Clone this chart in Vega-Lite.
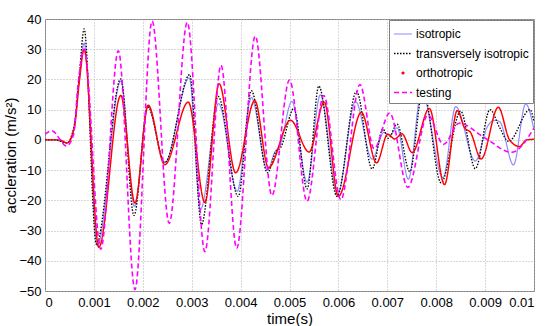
{
  "$schema": "https://vega.github.io/schema/vega-lite/v6.json",
  "autosize": "none",
  "width": 489,
  "height": 272,
  "padding": {"left": 45, "top": 19, "right": 16, "bottom": 35},
  "background": "white",
  "config": {
    "view": {"stroke": "#808080", "strokeWidth": 1},
    "font": "Liberation Sans",
    "axis": {
      "labelFont": "Liberation Sans", "labelFontSize": 13, "labelColor": "black",
      "titleFont": "Liberation Sans", "titleFontSize": 15, "titleFontWeight": "normal", "titleColor": "black",
      "domain": false, "ticks": false,
      "gridColor": "#b0b0b0", "gridDash": [1, 2], "gridWidth": 1
    },
    "legend": {
      "labelFont": "Liberation Sans", "labelFontSize": 12, "labelColor": "black"
    }
  },
  "datasets": {
    "d": [
      {"s":"isotropic","t":0,"a":0},{"s":"isotropic","t":0.0002,"a":0},{"s":"isotropic","t":0.00046,"a":-1},{"s":"isotropic","t":0.0006,"a":4.5},{"s":"isotropic","t":0.0007,"a":20},{"s":"isotropic","t":0.0008,"a":32},{"s":"isotropic","t":0.00107,"a":-35},{"s":"isotropic","t":0.00155,"a":19.5},{"s":"isotropic","t":0.00183,"a":-22},{"s":"isotropic","t":0.0021,"a":11},{"s":"isotropic","t":0.00245,"a":-7.5},{"s":"isotropic","t":0.00295,"a":20.5},{"s":"isotropic","t":0.00318,"a":-23},{"s":"isotropic","t":0.00355,"a":12},{"s":"isotropic","t":0.00393,"a":-17},{"s":"isotropic","t":0.00422,"a":14},{"s":"isotropic","t":0.00455,"a":-10},{"s":"isotropic","t":0.0047,"a":-4},{"s":"isotropic","t":0.0048,"a":-2},{"s":"isotropic","t":0.00505,"a":12.7},{"s":"isotropic","t":0.00536,"a":-14},{"s":"isotropic","t":0.00563,"a":14.9},{"s":"isotropic","t":0.00598,"a":-18},{"s":"isotropic","t":0.00635,"a":12.7},{"s":"isotropic","t":0.00669,"a":-6.4},{"s":"isotropic","t":0.00693,"a":2.5},{"s":"isotropic","t":0.00705,"a":1.5},{"s":"isotropic","t":0.0072,"a":4},{"s":"isotropic","t":0.00743,"a":-13},{"s":"isotropic","t":0.0077,"a":16},{"s":"isotropic","t":0.00814,"a":-12.5},{"s":"isotropic","t":0.0084,"a":11},{"s":"isotropic","t":0.0088,"a":-7},{"s":"isotropic","t":0.00905,"a":4.5},{"s":"isotropic","t":0.0092,"a":6.5},{"s":"isotropic","t":0.0093,"a":6},{"s":"isotropic","t":0.00958,"a":-8.3},{"s":"isotropic","t":0.00983,"a":11.9},{"s":"isotropic","t":0.01,"a":3.3},

      {"s":"transversely isotropic","t":0,"a":0},{"s":"transversely isotropic","t":0.0002,"a":0},{"s":"transversely isotropic","t":0.00045,"a":-1},{"s":"transversely isotropic","t":0.0006,"a":5},{"s":"transversely isotropic","t":0.0007,"a":21},{"s":"transversely isotropic","t":0.0008,"a":36.7},{"s":"transversely isotropic","t":0.00105,"a":-34.5},{"s":"transversely isotropic","t":0.00155,"a":20.2},{"s":"transversely isotropic","t":0.00182,"a":-25},{"s":"transversely isotropic","t":0.0021,"a":11},{"s":"transversely isotropic","t":0.00245,"a":-7.5},{"s":"transversely isotropic","t":0.00296,"a":21.6},{"s":"transversely isotropic","t":0.0032,"a":-28},{"s":"transversely isotropic","t":0.00354,"a":14.4},{"s":"transversely isotropic","t":0.00395,"a":-18.7},{"s":"transversely isotropic","t":0.00422,"a":16.3},{"s":"transversely isotropic","t":0.00455,"a":-10.9},{"s":"transversely isotropic","t":0.00472,"a":-4},{"s":"transversely isotropic","t":0.00482,"a":-2.5},{"s":"transversely isotropic","t":0.00509,"a":10.4},{"s":"transversely isotropic","t":0.00536,"a":-16.2},{"s":"transversely isotropic","t":0.0056,"a":17.8},{"s":"transversely isotropic","t":0.00597,"a":-18.7},{"s":"transversely isotropic","t":0.00637,"a":16},{"s":"transversely isotropic","t":0.00669,"a":-9.6},{"s":"transversely isotropic","t":0.00691,"a":3.6},{"s":"transversely isotropic","t":0.00702,"a":0.5},{"s":"transversely isotropic","t":0.0072,"a":5.2},{"s":"transversely isotropic","t":0.00746,"a":-10.5},{"s":"transversely isotropic","t":0.00773,"a":16.7},{"s":"transversely isotropic","t":0.0081,"a":-14.2},{"s":"transversely isotropic","t":0.0085,"a":9.5},{"s":"transversely isotropic","t":0.0088,"a":-9.5},{"s":"transversely isotropic","t":0.0091,"a":10},{"s":"transversely isotropic","t":0.0093,"a":4},{"s":"transversely isotropic","t":0.00948,"a":-0.5},{"s":"transversely isotropic","t":0.00992,"a":10},{"s":"transversely isotropic","t":0.01,"a":6},

      {"s":"orthotropic","t":0,"a":0},{"s":"orthotropic","t":0.0003,"a":0},{"s":"orthotropic","t":0.00045,"a":-1},{"s":"orthotropic","t":0.0006,"a":4},{"s":"orthotropic","t":0.0007,"a":19},{"s":"orthotropic","t":0.0008,"a":30},{"s":"orthotropic","t":0.0011,"a":-35.5},{"s":"orthotropic","t":0.00155,"a":14.7},{"s":"orthotropic","t":0.00184,"a":-20.9},{"s":"orthotropic","t":0.00211,"a":11.5},{"s":"orthotropic","t":0.00245,"a":-8.2},{"s":"orthotropic","t":0.00293,"a":12.5},{"s":"orthotropic","t":0.00327,"a":-20.7},{"s":"orthotropic","t":0.00356,"a":18.6},{"s":"orthotropic","t":0.0039,"a":-10.9},{"s":"orthotropic","t":0.00429,"a":13},{"s":"orthotropic","t":0.00457,"a":-9.2},{"s":"orthotropic","t":0.00502,"a":6.5},{"s":"orthotropic","t":0.0054,"a":-4},{"s":"orthotropic","t":0.00571,"a":12.5},{"s":"orthotropic","t":0.006,"a":-18.7},{"s":"orthotropic","t":0.00647,"a":9.1},{"s":"orthotropic","t":0.00678,"a":-7.6},{"s":"orthotropic","t":0.00701,"a":1.9},{"s":"orthotropic","t":0.00715,"a":0.3},{"s":"orthotropic","t":0.0073,"a":2},{"s":"orthotropic","t":0.00751,"a":-4.2},{"s":"orthotropic","t":0.00786,"a":10.4},{"s":"orthotropic","t":0.00817,"a":-14.8},{"s":"orthotropic","t":0.00843,"a":9.7},{"s":"orthotropic","t":0.00858,"a":4},{"s":"orthotropic","t":0.0087,"a":2.5},{"s":"orthotropic","t":0.00892,"a":-6.3},{"s":"orthotropic","t":0.00927,"a":10.8},{"s":"orthotropic","t":0.0095,"a":0},{"s":"orthotropic","t":0.0097,"a":-2.2},{"s":"orthotropic","t":0.00985,"a":0},{"s":"orthotropic","t":0.01,"a":0.2},

      {"s":"testing","t":0,"a":1.9},{"s":"testing","t":0.00014,"a":3},{"s":"testing","t":0.00044,"a":-2},{"s":"testing","t":0.00058,"a":1.5},{"s":"testing","t":0.00068,"a":19},{"s":"testing","t":0.0008,"a":30},{"s":"testing","t":0.00114,"a":-36.2},{"s":"testing","t":0.0015,"a":29.5},{"s":"testing","t":0.00184,"a":-49.5},{"s":"testing","t":0.00219,"a":39.3},{"s":"testing","t":0.00254,"a":-27.6},{"s":"testing","t":0.00291,"a":38.9},{"s":"testing","t":0.00327,"a":-37},{"s":"testing","t":0.0036,"a":24.7},{"s":"testing","t":0.00392,"a":-35.9},{"s":"testing","t":0.0043,"a":34.4},{"s":"testing","t":0.00464,"a":-18.4},{"s":"testing","t":0.005,"a":19.8},{"s":"testing","t":0.00536,"a":-20.3},{"s":"testing","t":0.0057,"a":14.7},{"s":"testing","t":0.00605,"a":-19.8},{"s":"testing","t":0.00644,"a":18.3},{"s":"testing","t":0.00673,"a":-2.9},{"s":"testing","t":0.00705,"a":8.9},{"s":"testing","t":0.00742,"a":-15.7},{"s":"testing","t":0.00783,"a":8.2},{"s":"testing","t":0.00815,"a":-1.5},{"s":"testing","t":0.00847,"a":5.5},{"s":"testing","t":0.009,"a":0.6},{"s":"testing","t":0.00954,"a":-4.1},{"s":"testing","t":0.01,"a":3.9}
    ]
  },
  "data": {"name": "d"},
  "encoding": {
    "x": {
      "field": "t", "type": "quantitative",
      "scale": {"domain": [0, 0.01], "nice": false, "zero": false},
      "axis": {"values": [0,0.001,0.002,0.003,0.004,0.005,0.006,0.007,0.008,0.009,0.01], "format": ".3~f", "title": "time(s)", "labelPadding": 5, "titlePadding": 2, "grid": true}
    },
    "y": {
      "field": "a", "type": "quantitative",
      "scale": {"domain": [-50, 40], "nice": false, "zero": false},
      "axis": {"values": [-50,-40,-30,-20,-10,0,10,20,30,40], "title": "accleration (m/s²)", "labelPadding": 4, "titlePadding": 0, "grid": true}
    },
    "color": {
      "field": "s", "type": "nominal",
      "scale": {"domain": ["isotropic", "transversely isotropic", "orthotropic", "testing"], "range": ["#8c8cff", "#000000", "#ff0000", "#ff00ff"]},
      "legend": {
        "title": null, "orient": "top-right", "offset": 1, "padding": 4,
        "strokeColor": "#808080", "fillColor": "white",
        "symbolType": "stroke", "symbolSize": 324, "rowPadding": 3.5, "labelOffset": 3,
        "encode": {
          "symbols": {
            "update": {
              "shape": {"signal": "datum.value === 'orthotropic' ? 'circle' : 'stroke'"},
              "size": {"signal": "datum.value === 'orthotropic' ? 3 : 324"},
              "fill": {"signal": "datum.value === 'orthotropic' ? '#ff0000' : 'transparent'"}
            }
          }
        }
      }
    },
    "strokeDash": {
      "field": "s", "type": "nominal", "legend": null,
      "scale": {"domain": ["isotropic", "transversely isotropic", "orthotropic", "testing"], "range": [[1,0],[1.5,1.5],[1,0],[5,3]]}
    },
    "strokeWidth": {
      "field": "s", "type": "nominal", "legend": null,
      "scale": {"domain": ["isotropic", "transversely isotropic", "orthotropic", "testing"], "range": [1.2, 1.6, 2, 1.5]}
    }
  },
  "layer": [
    {"transform": [{"filter": "datum.s === 'isotropic'"}], "mark": {"type": "line", "interpolate": "monotone", "clip": true}},
    {"transform": [{"filter": "datum.s === 'transversely isotropic'"}], "mark": {"type": "line", "interpolate": "monotone", "clip": true}},
    {"transform": [{"filter": "datum.s === 'orthotropic'"}], "mark": {"type": "line", "interpolate": "monotone", "clip": true}},
    {"transform": [{"filter": "datum.s === 'testing'"}], "mark": {"type": "line", "interpolate": "monotone", "clip": true}}
  ]
}
